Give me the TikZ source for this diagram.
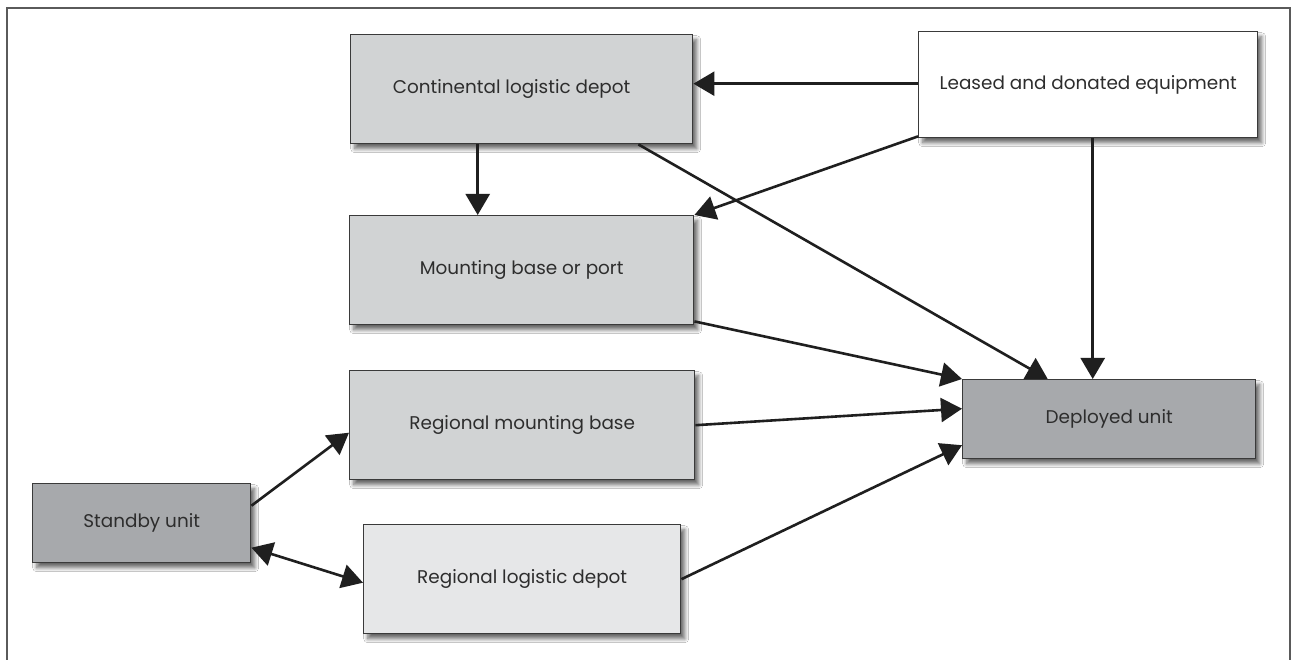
\documentclass[tikz,border=0pt]{standalone}
\usepackage{fontspec}
\setmainfont{Poppins}
\usetikzlibrary{arrows.meta,shadows.blur}

\definecolor{boxmid}{RGB}{209,211,212}
\definecolor{boxdark}{RGB}{167,169,172}
\definecolor{boxlight}{RGB}{230,231,232}
\definecolor{edgegray}{RGB}{58,58,58}
\definecolor{framegray}{RGB}{90,90,90}
\definecolor{textgray}{RGB}{45,45,45}

\tikzset{
  unitbox/.style={draw=edgegray, line width=1.4pt, anchor=north west,
    inner sep=0pt, align=center, text=textgray,
    font=\fontsize{18.4}{21}\selectfont,
    blur shadow={shadow xshift=4pt, shadow yshift=-5pt,
      shadow blur steps=8, shadow blur radius=4pt, shadow opacity=60}},
  flow/.style={line width=2.6pt, draw=black!88,
    -{Triangle[length=21pt,width=24pt]}},
  twoway/.style={line width=2.6pt, draw=black!88,
    {Triangle[length=21pt,width=24pt]}-{Triangle[length=21pt,width=24pt]}},
}

\begin{document}
\begin{tikzpicture}[x=1pt,y=-1pt]
  \useasboundingbox (0,0) rectangle (1291,660);
  \fill[white] (0,0) rectangle (1291,660);

  % outer frame, open at the bottom
  \draw[framegray, line width=2pt] (7,660) -- (7,8) -- (1290,8) -- (1290,660);

  % boxes
  \node[unitbox, fill=boxmid, minimum width=342pt, minimum height=109pt]
    (cont) at (350,34) {\hspace*{-20pt}Continental logistic depot};
  \node[unitbox, fill=white, minimum width=339pt, minimum height=106pt]
    (lea) at (918,31) {Leased and donated equipment};
  \node[unitbox, fill=boxmid, minimum width=344pt, minimum height=109pt]
    (mount) at (349,215) {Mounting base or port};
  \node[unitbox, fill=boxmid, minimum width=345pt, minimum height=109pt]
    (rmb) at (349,370) {Regional mounting base};
  \node[unitbox, fill=boxdark, minimum width=218pt, minimum height=79pt]
    (stby) at (32,483) {Standby unit};
  \node[unitbox, fill=boxlight, minimum width=317pt, minimum height=109pt]
    (rld) at (363,524) {Regional logistic depot};
  \node[unitbox, fill=boxdark, minimum width=293pt, minimum height=79pt]
    (dep) at (962,379) {Deployed unit};

  % connectors
  \draw[flow] ([yshift=1pt]lea.west) -- ([yshift=1pt]lea.west -| cont.east);
  \draw[flow] ([xshift=-44pt]cont.south) -- ([xshift=-44pt]cont.south |- mount.north);
  \draw[flow] ([yshift=2pt]lea.south west) -- (mount.north east);
  \draw[flow] ([xshift=-55pt]cont.south east) -- ([xshift=-61.5pt]dep.north);
  \draw[flow] ([xshift=4.5pt]lea.south) -- ([xshift=4.5pt]lea.south |- dep.north);
  \draw[flow] ([yshift=4pt]mount.south east) -- (dep.north west);
  \draw[flow] (rmb.east) -- ([yshift=10.5pt]dep.west);
  \draw[flow] (rld.east) -- ([yshift=-26pt]dep.west);
  \draw[flow] ([yshift=17.5pt]stby.east) -- ([yshift=-7.5pt]rmb.west);
  \draw[twoway] ([yshift=-24.5pt]stby.east) -- ([yshift=-3.5pt]rld.west);
\end{tikzpicture}
\end{document}
